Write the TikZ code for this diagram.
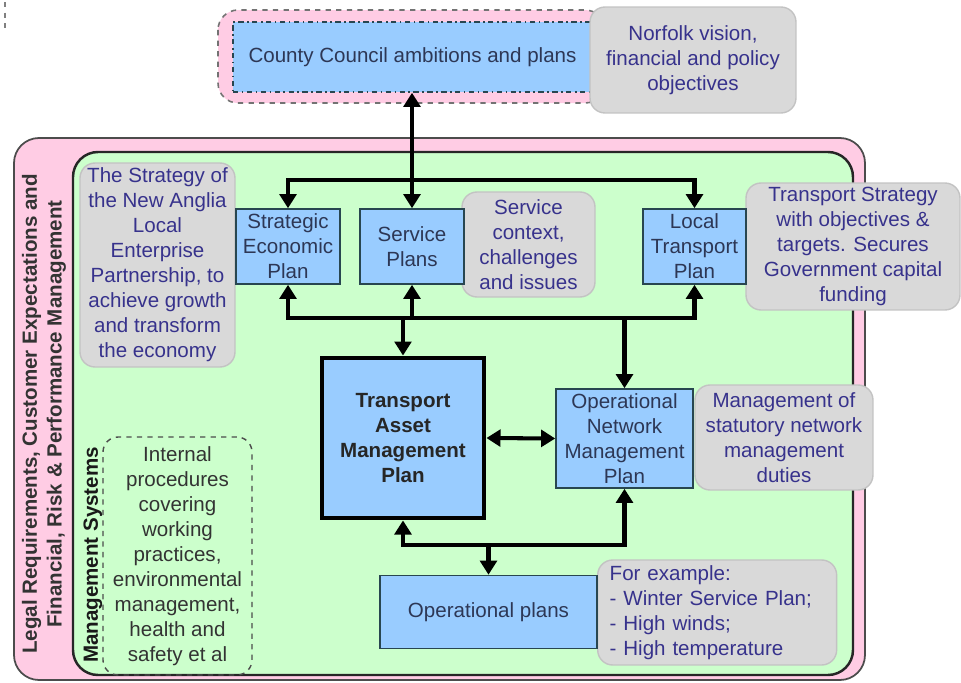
\documentclass[tikz,border=0pt]{standalone}
\usepackage{fontspec}
\setmainfont{Liberation Sans}
\usetikzlibrary{arrows.meta}
\definecolor{pinkbg}{RGB}{255,204,228}
\definecolor{greenbg}{RGB}{204,255,204}
\definecolor{bluebg}{RGB}{153,204,255}
\definecolor{graybg}{RGB}{217,217,217}
\definecolor{grayline}{RGB}{195,195,195}
\definecolor{notetext}{RGB}{55,50,140}
\definecolor{boxtext}{RGB}{45,55,85}
\definecolor{boxline}{RGB}{40,70,80}
\tikzset{
  every node/.style={font=\fontsize{11.7}{14.2}\selectfont, inner sep=0pt, align=center},
  bluebox/.style={draw=boxline, line width=0.9pt, fill=bluebg, text=boxtext},
  notebox/.style={draw=grayline, line width=0.8pt, fill=graybg, rounded corners=0.3cm, text=notetext},
  conn/.style={line width=2.3pt, line cap=rect},
  tip/.style={conn, -{Triangle[width=9.5pt,length=8pt]}},
  dbl/.style={conn, {Triangle[width=9.5pt,length=8pt]}-{Triangle[width=9.5pt,length=8pt]}},
}
\begin{document}
\begin{tikzpicture}[x=0.02cm,y=-0.02cm]
\useasboundingbox (0,0) rectangle (961,683);
% small dashed mark top-left
\draw[gray, dashed, line width=0.8pt] (5,2) -- (5,30);
% outer frames
\draw[draw=black!70, line width=1pt, fill=pinkbg, rounded corners=0.5cm] (14,138) rectangle (865,680);
\draw[draw=black!85, line width=1.4pt, fill=greenbg, rounded corners=0.5cm] (73,152) rectangle (853,675);
% top dashed frame
\draw[draw=black!55, dashed, line width=0.9pt, fill=pinkbg, rounded corners=0.4cm] (218,10) rectangle (605,103);
\node[bluebox, dash dot, minimum width=7.18cm, minimum height=1.4cm] (county) at (412.5,57) {County Council ambitions and plans};
\node[notebox, minimum width=4.12cm, minimum height=2.12cm] (norfolk) at (693,60) {Norfolk vision,\\financial and policy\\objectives};
% vertical labels
\node[rotate=90, font=\bfseries\fontsize{11.7}{14.2}\selectfont, text=black!80] (legal) at (44,414) {Legal Requirements, Customer Expectations and\\Financial, Risk \& Performance Management};
\node[rotate=90, font=\bfseries\fontsize{11.7}{14.2}\selectfont, text=black!90] (mgmt) at (93,555) {Management Systems};
% notes
\node[notebox, minimum width=3.1cm, minimum height=4.08cm] (strat) at (157.5,265) {The Strategy of\\the New Anglia\\Local\\Enterprise\\Partnership, to\\achieve growth\\and transform\\the economy};
\node[notebox, minimum width=2.66cm, minimum height=2.1cm] (spnote) at (528.5,244.5) {Service\\context,\\challenges\\and issues};
\node[notebox, minimum width=4.28cm, minimum height=2.54cm] (ltpnote) at (853,246.5) {Transport Strategy\\with objectives \&\\targets. Secures\\Government capital\\funding};
\node[notebox, minimum width=3.56cm, minimum height=2.1cm] (onmpnote) at (784,437.5) {Management of\\statutory network\\management\\duties};
\node[notebox, minimum width=4.78cm, minimum height=2.1cm, align=left, anchor=west, text width=4.62cm] (opnote) at (597,612.5) {\hspace*{0.16cm}For example:\\\hspace*{0.16cm}- Winter Service Plan;\\\hspace*{0.16cm}- High winds;\\\hspace*{0.16cm}- High temperature};
\node[draw=black!70, dashed, line width=0.8pt, rounded corners=0.3cm, minimum width=2.98cm, minimum height=4.76cm, text=black!80] (internal) at (177.5,556) {Internal\\procedures\\covering\\working\\practices,\\environmental\\management,\\health and\\safety et al};
% blue boxes
\node[bluebox, minimum width=2.08cm, minimum height=1.5cm] (sep) at (288,246.5) {Strategic\\Economic\\Plan};
\node[bluebox, minimum width=2.08cm, minimum height=1.5cm] (sp) at (412,246.5) {Service\\Plans};
\node[bluebox, minimum width=2.06cm, minimum height=1.5cm] (ltp) at (694.5,246.5) {Local\\Transport\\Plan};
\node[draw=black, line width=2.8pt, fill=bluebg, minimum width=3.24cm, minimum height=3.2cm, font=\bfseries\fontsize{11.7}{14.2}\selectfont, text=black!85] (tamp) at (403,438) {Transport\\Asset\\Management\\Plan};
\node[bluebox, minimum width=2.74cm, minimum height=1.98cm] (onmp) at (624.5,438.5) {Operational\\Network\\Management\\Plan};
\node[bluebox, minimum width=4.34cm, minimum height=1.46cm] (op) at (488.5,612) {Operational plans};
% bus coordinates
\coordinate (topbus) at (0,180);
\coordinate (midbus) at (0,318);
\coordinate (botbus) at (0,545);
% connectors
\draw[dbl] (sp.north |- county.south) -- (sp.north);
\draw[dbl] (sep.north) -- (sep.north |- topbus) -| (ltp.north);
\draw[dbl] (sep.south) -- (sep.south |- midbus) -| (ltp.south);
\draw[tip] (sp.south |- midbus) -- (sp.south);
\draw[tip] (tamp.north |- midbus) -- (tamp.north);
\draw[tip] (onmp.north |- midbus) -- (onmp.north);
\draw[dbl] (tamp.east) -- (onmp.west);
\draw[dbl] (tamp.south) -- (tamp.south |- botbus) -| (onmp.south);
\draw[tip] (op.north |- botbus) -- (op.north);
\end{tikzpicture}
\end{document}
